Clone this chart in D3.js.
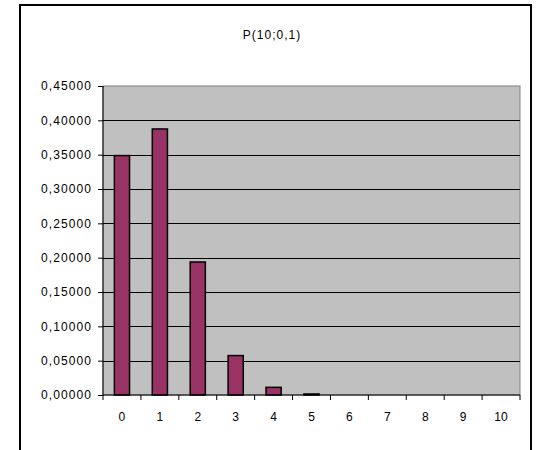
<!DOCTYPE html>
<html>
<head>
<meta charset="utf-8">
<script src="https://cdn.jsdelivr.net/npm/d3@7"></script>
<style>
  html, body { margin: 0; padding: 0; background: #fff; }
  svg { display: block; font-family: Arial, "Liberation Sans", sans-serif; }
</style>
</head>
<body>
<svg id="chart" width="538" height="450"></svg>
<script>
// Binomial distribution, n = 10, p = 0.1
const chartTitle = "P(10;0,1)";
const categories = ["0", "1", "2", "3", "4", "5", "6", "7", "8", "9", "10"];
const probabilities = [0.34868, 0.38742, 0.19371, 0.05740, 0.01116, 0.00149, 0.00014, 0.0000087, 0.00000036, 0.000000009, 0.0000000001];
const yTicks = [0, 0.05, 0.10, 0.15, 0.20, 0.25, 0.30, 0.35, 0.40, 0.45];

const svg = d3.select("#chart");
const plot = { left: 103, right: 520, top: 86, bottom: 395 };
const fontFamily = "Arial, 'Liberation Sans', sans-serif";

// Chart frame
svg.append("rect")
  .attr("x", 20).attr("y", 5)
  .attr("width", 511).attr("height", 460)
  .attr("fill", "#fff").attr("stroke", "#000").attr("stroke-width", 2);

svg.append("text")
  .attr("x", 272).attr("y", 39)
  .attr("text-anchor", "middle")
  .attr("font-size", 12)
  .attr("letter-spacing", 1)
  .attr("fill", "#000")
  .text(chartTitle);

const x = d3.scaleBand().domain(categories)
  .range([plot.left, plot.right])
  .paddingInner(0.6).paddingOuter(0.3);
const xOuter = d3.scaleBand().domain(categories).range([plot.left, plot.right]);
const y = d3.scaleLinear().domain([0, 0.45]).range([plot.bottom, plot.top]);

// Plot area background
svg.append("rect")
  .attr("x", plot.left).attr("y", plot.top)
  .attr("width", plot.right - plot.left).attr("height", plot.bottom - plot.top)
  .attr("fill", "#c0c0c0").attr("stroke", "#808080").attr("stroke-width", 1);

// Gridlines
svg.append("g").selectAll("line")
  .data(yTicks.filter(d => d > 0 && d < 0.45))
  .join("line")
  .attr("x1", plot.left).attr("x2", plot.right)
  .attr("y1", d => Math.round(y(d)) + 0.5).attr("y2", d => Math.round(y(d)) + 0.5)
  .attr("stroke", "#000").attr("stroke-width", 1);

// Bars (sub-pixel bars are not visible at this scale)
svg.append("g").selectAll("rect")
  .data(probabilities.map((v, i) => ({ cat: categories[i], v })).filter(d => plot.bottom - y(d.v) >= 0.5))
  .join("rect")
  .attr("x", d => x(d.cat))
  .attr("width", x.bandwidth())
  .attr("y", d => y(d.v))
  .attr("height", d => plot.bottom - y(d.v))
  .attr("fill", "#993366")
  .attr("stroke", "#000")
  .attr("stroke-width", 1.5);

// Y axis
const yAxis = d3.axisLeft(y).tickValues(yTicks)
  .tickFormat(d => d3.format(".5f")(d).replace(".", ","))
  .tickSize(5).tickPadding(6);
const gy = svg.append("g").attr("transform", `translate(${plot.left},0)`).call(yAxis);
gy.select(".domain").attr("stroke", "#000").attr("d", `M0,${plot.top}V${plot.bottom}`);
gy.selectAll(".tick line").attr("stroke", "#000");
gy.selectAll("text").attr("font-size", 12).attr("letter-spacing", 1.1)
  .attr("fill", "#000").attr("font-family", fontFamily);

// X axis
const xAxis = d3.axisBottom(xOuter).tickSize(0).tickPadding(17);
const gx = svg.append("g").attr("transform", `translate(0,${plot.bottom})`).call(xAxis);
gx.select(".domain").attr("stroke", "#000").attr("d", `M${plot.left},0H${plot.right}`);
gx.selectAll("text").attr("font-size", 12).attr("fill", "#000").attr("font-family", fontFamily);
// Category boundary ticks
gx.append("g").selectAll("line")
  .data(d3.range(categories.length + 1))
  .join("line")
  .attr("x1", i => plot.left + i * xOuter.step())
  .attr("x2", i => plot.left + i * xOuter.step())
  .attr("y1", 0).attr("y2", 5)
  .attr("stroke", "#000");
</script>
</body>
</html>
